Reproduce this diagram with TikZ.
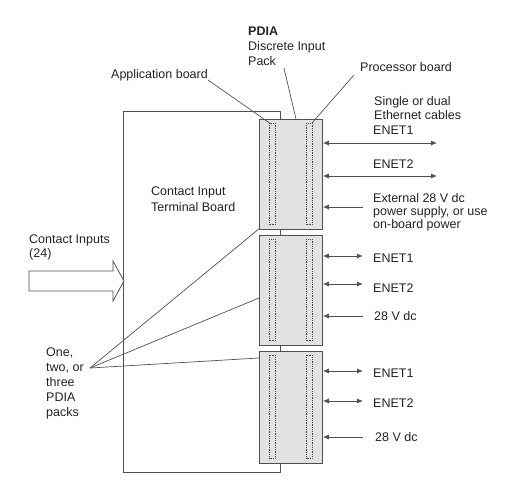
\documentclass[tikz,border=0pt]{standalone}
\usepackage{fontspec}
\setmainfont{Liberation Sans}
\usetikzlibrary{arrows.meta}
\definecolor{txt}{HTML}{222222}
\definecolor{ln}{HTML}{505050}
\definecolor{packfill}{HTML}{E2E2E2}
\begin{document}
\begin{tikzpicture}[x=1pt,y=-1pt,
  lbl/.style={inner sep=0pt, text=txt, align=left, font=\fontsize{12.5}{14}\selectfont},
  board/.style={draw=ln, line width=0.8pt, fill=white, inner sep=0pt},
  pack/.style={draw=ln, line width=0.8pt, fill=packfill, inner sep=0pt, minimum width=63pt},
  strip/.style={draw=ln!90!black, line width=0.8pt, dash pattern=on 1pt off 0.8pt},
  leader/.style={draw=ln, line width=0.7pt},
  twoway/.style={draw=ln, line width=0.8pt, {Latex[length=6pt,width=5pt]}-{Latex[length=6pt,width=5pt]}},
  oneway/.style={draw=ln, line width=0.8pt, -{Latex[length=6pt,width=5pt]}},
  fat/.style={draw=ln, line width=0.8pt, fill=white}]
\useasboundingbox (0,0) rectangle (525,492);

% terminal board
\node[board, anchor=north west, minimum width=157pt, minimum height=361pt] (tb) at (123,111) {};
\node[lbl, anchor=north west, font=\fontsize{12.5}{16}\selectfont] (tbl) at (151,187) {Contact Input\\Terminal Board};

% packs
\node[pack, anchor=north west, minimum height=110pt] (p1) at (259,119) {};
\node[pack, anchor=north west, minimum height=110pt] (p2) at (259,235) {};
\node[pack, anchor=north west, minimum height=112pt] (p3) at (259,351) {};
\foreach \p in {p1,p2,p3}{
  \draw[strip] ([xshift=10pt,yshift=-4pt]\p.north west) rectangle ([xshift=16pt,yshift=5pt]\p.south west);
  \draw[strip] ([xshift=47pt,yshift=-4pt]\p.north west) rectangle ([xshift=53pt,yshift=5pt]\p.south west);
}
\draw[leader] (p1.south -| tb.east) -- (p2.north -| tb.east);
\draw[leader] (p2.south -| tb.east) -- (p3.north -| tb.east);

% top labels
\node[lbl, anchor=north west, font=\fontsize{12.5}{15}\selectfont] (pdia) at (248,27) {\textbf{PDIA}\\Discrete Input\\Pack};
\node[lbl, anchor=base west] (app) at (111,79) {Application board};
\node[lbl, anchor=base west] (proc) at (360,72) {Processor board};
\coordinate (appEnd) at (271,124);
\coordinate (pdiaEnd) at (296,119);
\coordinate (procEnd) at (312,123);
\draw[leader] (app.east |- 0,80) -- (appEnd);
\draw[leader] (pdia.south west) ++(36,2) -- (pdiaEnd);
\draw[leader] (proc.west |- 0,75) ++(-6,0) -- (procEnd);

% pack 1 connections
\node[lbl, anchor=north west, font=\fontsize{12.5}{14}\selectfont] (eth) at (374,96) {Single or dual\\Ethernet cables};
\node[lbl, anchor=base west] (e11) at (373,135) {ENET1};
\node[lbl, anchor=base west] (e12) at (373,169) {ENET2};
\node[lbl, anchor=north west, font=\fontsize{12.5}{13}\selectfont] (ext) at (373,193) {External 28 V dc\\power supply, or use\\on-board power};
\coordinate (a11) at (437,143);
\coordinate (a12) at (437,176);
\coordinate (a13) at (363,207);
\draw[twoway] (p1.east |- a11) -- (a11);
\draw[twoway] (p1.east |- a12) -- (a12);
\draw[oneway] (a13) -- (p1.east |- a13);

% pack 2 connections
\node[lbl, anchor=base west] (e21) at (373,262) {ENET1};
\node[lbl, anchor=base west] (e22) at (373,292) {ENET2};
\node[lbl, anchor=base west] (v2) at (374,320) {28 V dc};
\coordinate (a21) at (363,256);
\coordinate (a22) at (363,284);
\coordinate (a23) at (363,316);
\draw[twoway] (p2.east |- a21) -- (a21);
\draw[twoway] (p2.east |- a22) -- (a22);
\draw[oneway] (a23) -- (p2.east |- a23);

% pack 3 connections
\node[lbl, anchor=base west] (e31) at (373,377) {ENET1};
\node[lbl, anchor=base west] (e32) at (373,407) {ENET2};
\node[lbl, anchor=base west] (v3) at (375,441) {28 V dc};
\coordinate (a31) at (363,371);
\coordinate (a32) at (363,401);
\coordinate (a33) at (363,437);
\draw[twoway] (p3.east |- a31) -- (a31);
\draw[twoway] (p3.east |- a32) -- (a32);
\draw[oneway] (a33) -- (p3.east |- a33);

% contact inputs
\node[lbl, anchor=north west, font=\fontsize{12.5}{14}\selectfont] (ci) at (29,235) {Contact Inputs\\(24)};
\draw[fat] (29,271) -- (113,271) -- (113,261) -- (124,281) -- (113,301) -- (113,291) -- (29,291) -- cycle;

% one, two or three
\node[lbl, anchor=north west, font=\fontsize{12.5}{15}\selectfont] (one) at (46,348) {One,\\two, or\\three\\PDIA\\packs};
\coordinate (hub) at (90,368);
\draw[leader] (hub) -- (p3.west |- 0,358);
\draw[leader] (hub) -- (p2.west |- 0,298);
\draw[leader] (hub) -- ([yshift=1pt]p1.south west);
\end{tikzpicture}
\end{document}
